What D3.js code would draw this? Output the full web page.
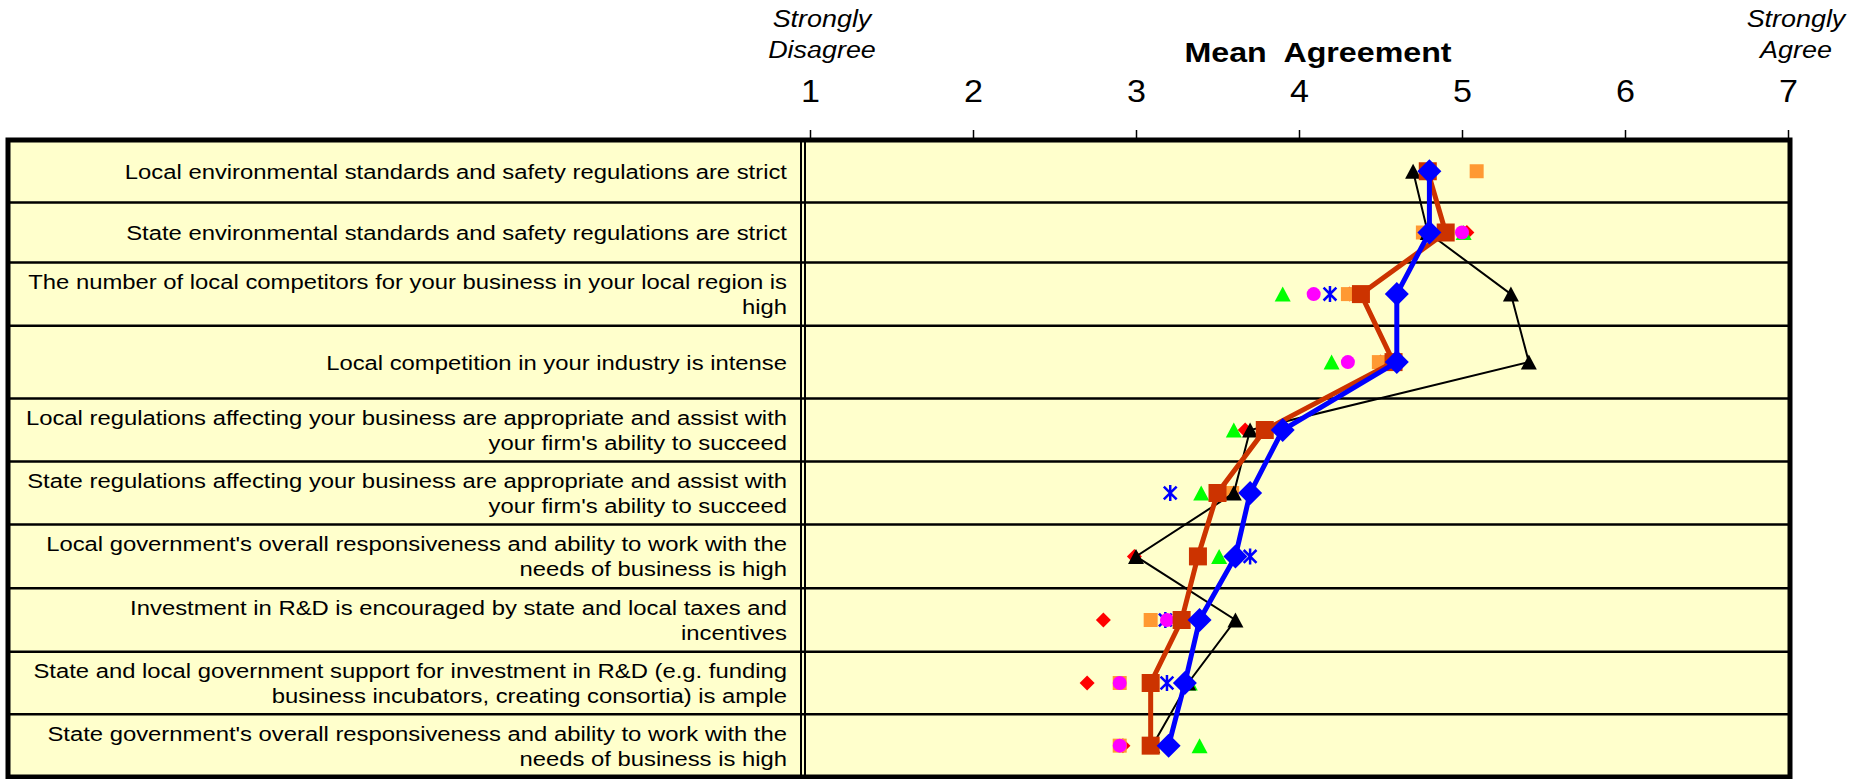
<!DOCTYPE html>
<html><head><meta charset="utf-8">
<script src="https://cdn.jsdelivr.net/npm/d3@7"></script>
<style>
body{margin:0;background:#fff}
svg{display:block}
text{font-family:"Liberation Sans",Arial,sans-serif;fill:#000}
</style>
</head><body>
<svg id="chart" width="1853" height="779"></svg>
<script>
// ---------- data ----------
const categories = [
  "Local environmental standards and safety regulations are strict",
  "State environmental standards and safety regulations are strict",
  "The number of local competitors for your business in your local region is\nhigh",
  "Local competition in your industry is intense",
  "Local regulations affecting your business are appropriate and assist with\nyour firm's ability to succeed",
  "State regulations affecting your business are appropriate and assist with\nyour firm's ability to succeed",
  "Local government's overall responsiveness and ability to work with the\nneeds of business is high",
  "Investment in R&D is encouraged by state and local taxes and\nincentives",
  "State and local government support for investment in R&D (e.g. funding\nbusiness incubators, creating consortia) is ample",
  "State government's overall responsiveness and ability to work with the\nneeds of business is high"
];
const tickValues = [1, 2, 3, 4, 5, 6, 7];
const axisTitle = "Mean  Agreement";
const leftAnchor = ["Strongly", "Disagree"];
const rightAnchor = ["Strongly", "Agree"];

const seriesRed      = [null, 5.03, 4.31, 4.50, 3.67, null, 2.99, 2.80, 2.70, 2.92];
const seriesGreen    = [null, 5.01, 3.90, 4.20, 3.60, 3.40, 3.51, null, 3.33, 3.39];
const seriesAsterisk = [null, null, 4.19, null, null, 3.21, 3.70, 3.18, 3.19, null];
const seriesOrange   = [5.09, 4.76, 4.30, 4.49, null, 3.59, null, 3.09, 2.90, 2.90];
const seriesMagenta  = [null, 5.00, 4.09, 4.30, null, null, null, 3.19, 2.90, 2.90];
const seriesBlack    = [4.70, 4.79, 5.30, 5.41, 3.70, 3.60, 3.00, 3.61, 3.32, 3.10];
const seriesBrown    = [4.79, 4.90, 4.38, 4.58, 3.79, 3.50, 3.38, 3.28, 3.09, 3.09];
const seriesBlue     = [4.80, 4.80, 4.60, 4.60, 3.90, 3.70, 3.61, 3.39, 3.30, 3.20];

// ---------- layout ----------
const W = 1853, H = 779;
const tableTop = 140, tableLeft = 8, tableRight = 1790, tableBottom = 777;
const rowHeights = [62.5, 60, 63.2, 72.8, 63, 63, 63.8, 63.4, 62.6, 62.7];
const bg = "#FFFFCC";

const svg = d3.select("#chart");
svg.append("rect").attr("width", W).attr("height", H).attr("fill", "#fff");

const bounds = [tableTop, ...Array.from(d3.cumsum(rowHeights), v => tableTop + v)];
const centers = rowHeights.map((h, i) => (bounds[i] + bounds[i + 1]) / 2);
const y = d3.scaleOrdinal().domain(categories).range(centers);
const x = d3.scaleLinear().domain([1, 7]).range([810, 1788]);

// table background
svg.append("rect")
  .attr("x", tableLeft).attr("y", tableTop)
  .attr("width", tableRight - tableLeft).attr("height", tableBottom - tableTop)
  .attr("fill", bg);

// row separators
svg.append("g").selectAll("line").data(bounds.slice(1, -1)).join("line")
  .attr("x1", tableLeft).attr("x2", tableRight)
  .attr("y1", d => d).attr("y2", d => d)
  .attr("stroke", "#000").attr("stroke-width", 2.5);

// double vertical divider
svg.append("g").selectAll("line").data([801, 805]).join("line")
  .attr("x1", d => d).attr("x2", d => d)
  .attr("y1", tableTop).attr("y2", tableBottom)
  .attr("stroke", "#000").attr("stroke-width", 2);

// outer border
svg.append("rect")
  .attr("x", tableLeft).attr("y", tableTop)
  .attr("width", tableRight - tableLeft).attr("height", tableBottom - tableTop)
  .attr("fill", "none").attr("stroke", "#000").attr("stroke-width", 5);

// category labels
const lab = svg.append("g");
categories.forEach(c => {
  const lines = c.split("\n");
  const n = lines.length;
  lines.forEach((t, i) => {
    const yy = y(c) + (i - (n - 1) / 2) * 25 + 7.5;
    lab.append("text")
      .attr("transform", `translate(787,${yy}) scale(1.135,1)`)
      .attr("text-anchor", "end")
      .attr("font-size", 21)
      .text(t);
  });
});

// axis on top
const axis = d3.axisTop(x).tickValues(tickValues).tickSize(8).tickPadding(28)
  .tickFormat(d3.format("d"));
const gAx = svg.append("g").attr("transform", `translate(0,${tableTop - 2})`).call(axis);
gAx.select(".domain").remove();
gAx.selectAll(".tick line").attr("stroke", "#000").attr("stroke-width", 1.5);
gAx.selectAll(".tick text")
  .attr("font-size", 31)
  .attr("fill", "#000")
  .attr("font-family", '"Liberation Sans",Arial,sans-serif')
  .attr("transform", "scale(1.1,1)");

// title and anchors
svg.append("text")
  .attr("transform", "translate(1318,62) scale(1.15,1)")
  .attr("text-anchor", "middle").attr("font-size", 28).attr("font-weight", "bold")
  .attr("xml:space", "preserve").style("white-space", "pre")
  .text(axisTitle);
[[leftAnchor, 822], [rightAnchor, 1796]].forEach(([lines, cx]) => {
  lines.forEach((t, i) => {
    svg.append("text")
      .attr("transform", `translate(${cx},${27 + i * 31}) scale(1.17,1)`)
      .attr("text-anchor", "middle").attr("font-size", 23).attr("font-style", "italic")
      .text(t);
  });
});

// ---------- marks ----------
const shape = {
  square: s => `M${-s / 2},${-s / 2}h${s}v${s}h${-s}Z`,
  diamond: s => `M0,${-s / 2}L${s / 2},0L0,${s / 2}L${-s / 2},0Z`,
  triangle: (w, h) => `M0,${-h / 2}L${w / 2},${h / 2}L${-w / 2},${h / 2}Z`,
  asterisk: s => `M0,${-s / 2}V${s / 2}M${-s * 0.4},${-s * 0.4}L${s * 0.4},${s * 0.4}M${s * 0.4},${-s * 0.4}L${-s * 0.4},${s * 0.4}`
};

function pts(values) {
  return values.map((v, i) => ({ v, c: categories[i] })).filter(d => d.v != null);
}

function drawLine(values, color, width) {
  const line = d3.line().defined(d => d != null)
    .x(d => x(d)).y((d, i) => y(categories[i]));
  svg.append("path").datum(values)
    .attr("d", line).attr("fill", "none")
    .attr("stroke", color).attr("stroke-width", width)
    .attr("stroke-linejoin", "miter");
}

function drawMarkers(values, pathStr, fill, stroke, strokeWidth) {
  svg.append("g").selectAll("path").data(pts(values)).join("path")
    .attr("transform", d => `translate(${x(d.v)},${y(d.c)})`)
    .attr("d", pathStr)
    .attr("fill", fill)
    .attr("stroke", stroke || "none")
    .attr("stroke-width", strokeWidth || 0);
}

function drawCircles(values, r, fill) {
  svg.append("g").selectAll("circle").data(pts(values)).join("circle")
    .attr("cx", d => x(d.v)).attr("cy", d => y(d.c)).attr("r", r).attr("fill", fill);
}

drawMarkers(seriesRed, shape.diamond(15), "#FF0000");
drawMarkers(seriesGreen, shape.triangle(16, 15), "#00FF00");
drawMarkers(seriesAsterisk, shape.asterisk(16), "none", "#0000FF", 2.5);
drawMarkers(seriesOrange, shape.square(14), "#FF9933");
drawCircles(seriesMagenta, 7, "#FF00FF");

drawLine(seriesBlack, "#000", 2);
drawMarkers(seriesBlack, shape.triangle(16, 15), "#000");

drawLine(seriesBrown, "#CC3300", 5);
drawMarkers(seriesBrown, shape.square(18), "#CC3300");

drawLine(seriesBlue, "#0000FF", 5);
drawMarkers(seriesBlue, shape.diamond(24), "#0000FF");
</script>
</body></html>
